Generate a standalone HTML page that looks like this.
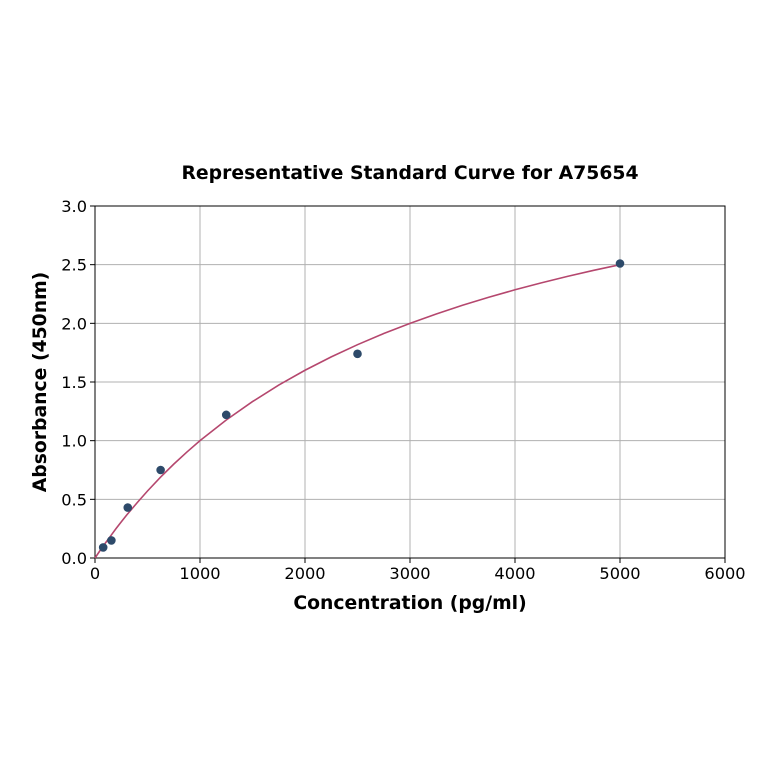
<!DOCTYPE html>
<html><head><meta charset="utf-8"><style>
body{margin:0;background:#fff;}
svg text{font-family:"DejaVu Sans","Liberation Sans",sans-serif;fill:#000;}
</style></head><body>
<svg id="chart" width="764" height="764">
<text x="410" y="179" text-anchor="middle" font-size="18.8" font-weight="bold">Representative Standard Curve for A75654</text>
<g id="grid"></g>
<g id="axes"></g>
<path id="curve" fill="none" stroke="#b5476e" stroke-width="1.6"></path>
<g id="points"></g>
<text x="410" y="609" text-anchor="middle" font-size="18.8" font-weight="bold">Concentration (pg/ml)</text>
<text transform="translate(46,382) rotate(-90)" text-anchor="middle" font-size="18.8" font-weight="bold">Absorbance (450nm)</text>
</svg>
<script>
const xTicks=[0,1000,2000,3000,4000,5000,6000];
const yTicks=[0.0,0.5,1.0,1.5,2.0,2.5,3.0];
const conc=[78,156,312,625,1250,2500,5000];
const absorb=[0.09,0.15,0.43,0.75,1.22,1.74,2.51];
const curveX=[0,25,50,100,150,200,250,300,400,500,625,750,875,1000,1250,1500,1750,2000,2250,2500,2750,3000,3250,3500,3750,4000,4250,4500,4750,5000];
const curveY=[0,0.033,0.066,0.129,0.189,0.25,0.308,0.364,0.47,0.571,0.69,0.8,0.903,1.0,1.176,1.333,1.474,1.6,1.714,1.818,1.913,2.0,2.08,2.154,2.222,2.286,2.345,2.4,2.452,2.5];
const L=95,R=725,T=206,B=558;
const sx=v=>L+(v-0)/(6000)*(R-L);
const sy=v=>B-(v/3)*(B-T);
const NS="http://www.w3.org/2000/svg";
const grid=document.getElementById('grid'),axes=document.getElementById('axes');
function mk(tag,attrs,parent){const e=document.createElementNS(NS,tag);for(const k in attrs)e.setAttribute(k,attrs[k]);parent.appendChild(e);return e;}
xTicks.forEach(t=>{
 const x=sx(t);
 const g=mk('line',{x1:x,x2:x,y1:T,y2:B,stroke:'#b0b0b0','stroke-width':1},grid);
 
 
 const tk=mk('line',{x1:x,x2:x,y1:B,y2:B+5,stroke:'#000','stroke-width':1},axes);
 
 
 const lb=mk('text',{x:x,y:B+21,'text-anchor':'middle','font-size':16.2},axes);
 lb.textContent=t;
 
 
});
yTicks.forEach(t=>{
 const y=sy(t);
 const g=mk('line',{x1:L,x2:R,y1:y,y2:y,stroke:'#b0b0b0','stroke-width':1},grid);
 
 
 const tk=mk('line',{x1:L-5,x2:L,y1:y,y2:y,stroke:'#000','stroke-width':1},axes);
 
 
 const lb=mk('text',{x:L-8,y:y+6,'text-anchor':'end','font-size':16.2},axes);
 lb.textContent=t.toFixed(1);
 
 
});
const frame=mk('rect',{x:L,y:T,width:R-L,height:B-T,fill:'none',stroke:'#000','stroke-width':1},axes);


document.getElementById('curve').setAttribute('d',curveX.map((c,i)=>(i?'L':'M')+sx(c)+','+sy(curveY[i])).join(''));
const pts=document.getElementById('points');
conc.forEach((c,i)=>{
 const p=mk('circle',{cx:sx(c),cy:sy(absorb[i]),r:4.3,fill:'#2d4a6a'},pts);
 
 
});
</script>
</body></html>
